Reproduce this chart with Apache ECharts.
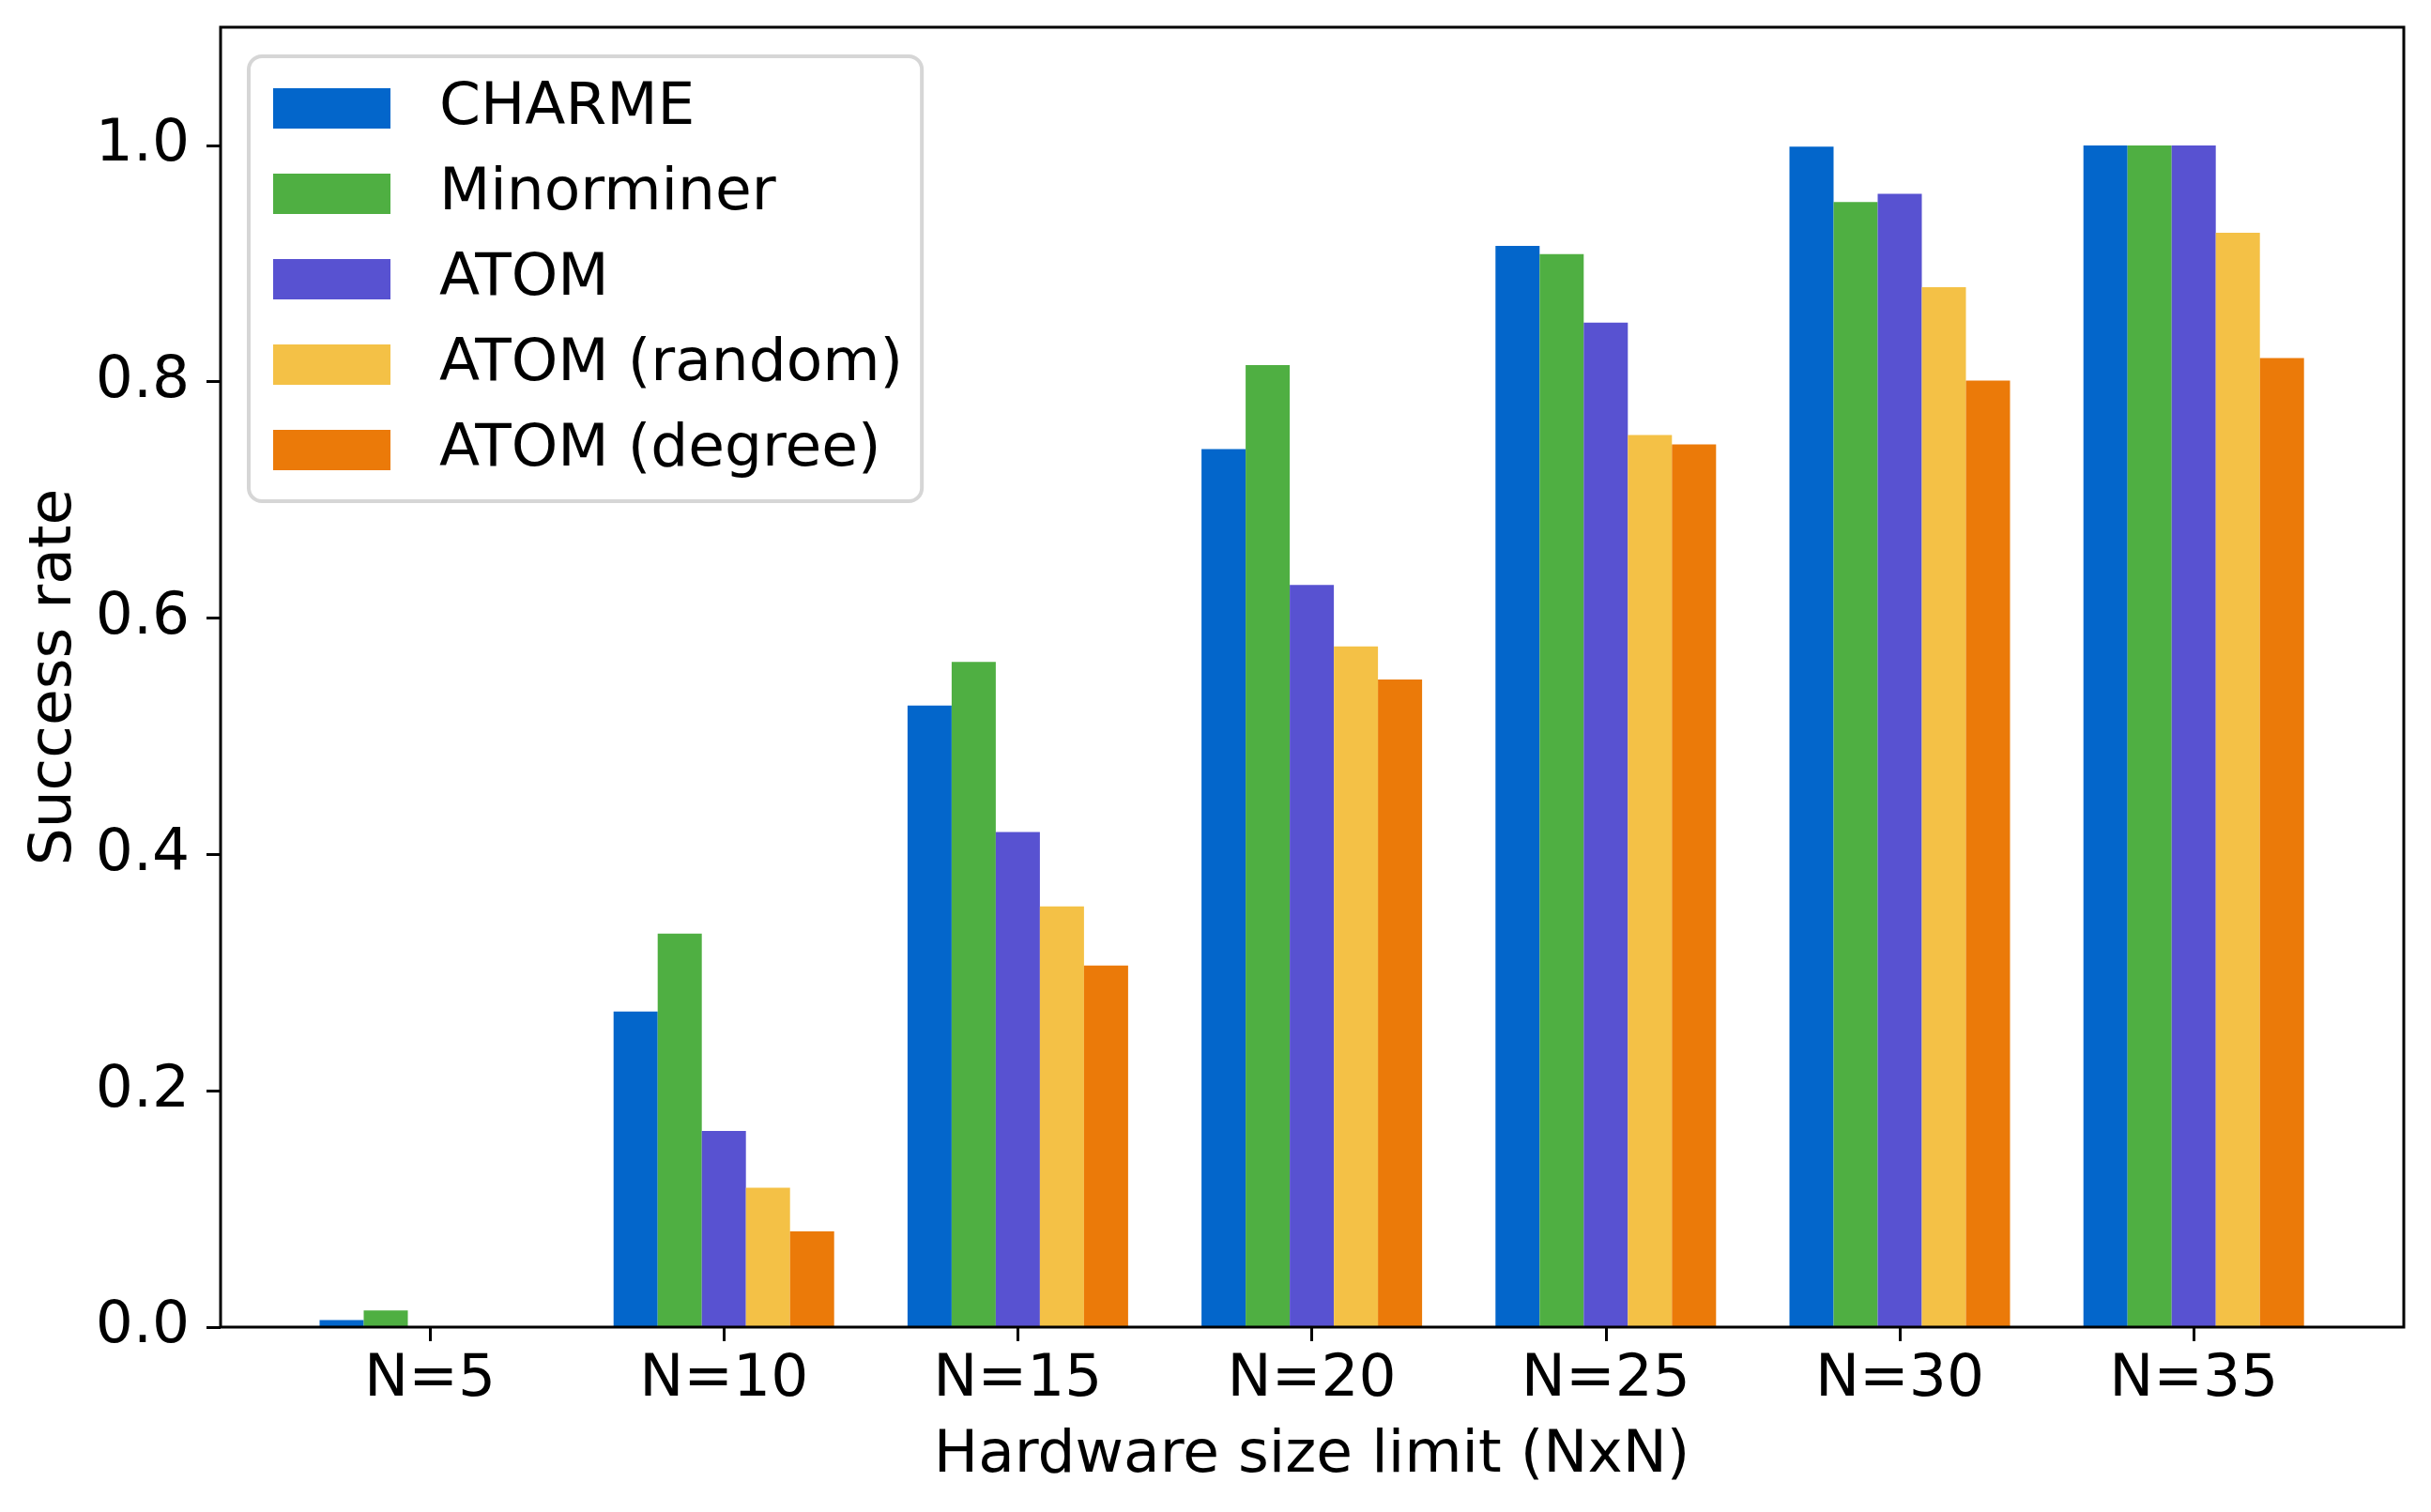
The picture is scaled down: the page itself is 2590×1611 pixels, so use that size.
<!DOCTYPE html>
<html>
<head>
<meta charset="utf-8">
<script src="https://cdn.jsdelivr.net/npm/echarts@6/dist/echarts.min.js"></script>
<style>
html,body{margin:0;padding:0;background:#fff;}
#chart{width:2590px;height:1611px;}
</style>
</head>
<body>
<div id="chart"></div>
<script>
const categories = ['N=5', 'N=10', 'N=15', 'N=20', 'N=25', 'N=30', 'N=35'];
const seriesNames = ['CHARME', 'Minorminer', 'ATOM', 'ATOM (random)', 'ATOM (degree)'];
const charme     = [0.006, 0.267, 0.526, 0.743, 0.915, 0.999, 1.0];
const minorminer = [0.014, 0.333, 0.563, 0.814, 0.908, 0.952, 1.0];
const atom       = [0.0, 0.166, 0.419, 0.628, 0.850, 0.959, 1.0];
const atomRandom = [0.0, 0.118, 0.356, 0.576, 0.755, 0.880, 0.926];
const atomDegree = [0.0, 0.081, 0.306, 0.548, 0.747, 0.801, 0.820];
const yTicks = [0, 0.2, 0.4, 0.6, 0.8, 1.0];
const colors = ['#0366cb', '#4faf42', '#5852d1', '#f4c146', '#eb7a09'];

const FONT = 'DejaVu Sans';
const FS = 63;
const values = [charme, minorminer, atom, atomRandom, atomDegree];

const chart = echarts.init(document.getElementById('chart'), null, {renderer: 'canvas'});
const option = {
  backgroundColor: '#ffffff',
  animation: false,
  textStyle: {fontFamily: FONT},
  grid: [
    {left: 235, right: 29, top: 29, bottom: 197, show: true, borderColor: '#000', borderWidth: 3, backgroundColor: 'transparent', z: 5},
    {left: 301.4, right: 96.2, top: 29, bottom: 197}
  ],
  legend: {
    orient: 'vertical',
    left: 265, top: 60,
    icon: 'rect',
    itemWidth: 125, itemHeight: 43, itemGap: 28,
    padding: [24, 20, 23, 26],
    borderColor: '#d6d6d6', borderWidth: 4, borderRadius: 14,
    backgroundColor: 'rgba(255,255,255,0.8)',
    textStyle: {fontFamily: FONT, fontSize: FS, color: '#000', lineHeight: 43, padding: [0, 0, 0, 47]},
    data: seriesNames
  },
  xAxis: [
    {gridIndex: 0, type: 'value', min: 0, max: 1, show: false},
    {
      gridIndex: 1, type: 'category', data: categories,
      axisLine: {show: false},
      axisTick: {show: true, alignWithLabel: true, length: 15, lineStyle: {color: '#000', width: 3}},
      axisLabel: {color: '#000', fontFamily: FONT, fontSize: FS, margin: 25},
      splitLine: {show: false},
      name: 'Hardware size limit (NxN)', nameLocation: 'middle', nameGap: 106,
      nameTextStyle: {color: '#000', fontFamily: FONT, fontSize: FS}
    }
  ],
  yAxis: [
    {
      gridIndex: 0, type: 'value', min: 0, max: 1.1,
      axisLine: {show: false},
      axisTick: {show: true, length: 15, lineStyle: {color: '#000', width: 3}, customValues: yTicks},
      axisLabel: {color: '#000', fontFamily: FONT, fontSize: FS, margin: 33, customValues: yTicks,
        formatter: v => v.toFixed(1)},
      splitLine: {show: false},
      name: 'Success rate', nameLocation: 'middle', nameGap: 145,
      nameTextStyle: {color: '#000', fontFamily: FONT, fontSize: FS}
    },
    {gridIndex: 1, type: 'value', min: 0, max: 1.1, show: false}
  ],
  series: seriesNames.map((name, i) => ({
    name: name,
    type: 'bar',
    xAxisIndex: 1, yAxisIndex: 1,
    data: values[i],
    barWidth: 47,
    barGap: '0%',
    itemStyle: {color: colors[i]},
    emphasis: {disabled: true}
  }))
};
chart.setOption(option);
</script>
</body>
</html>
